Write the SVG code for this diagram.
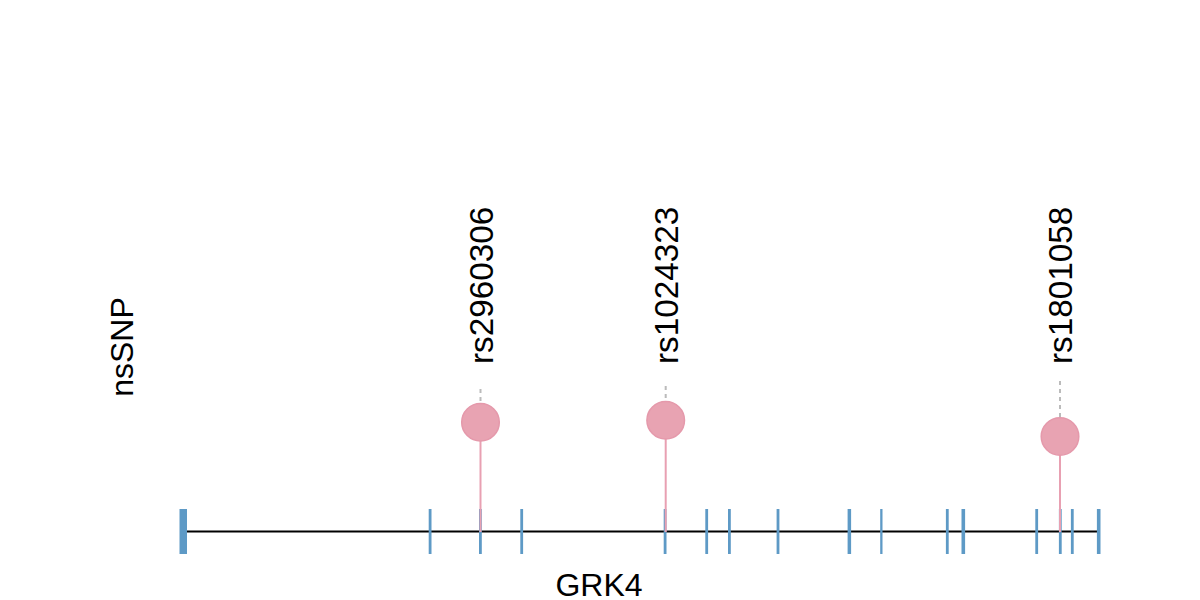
<svg xmlns="http://www.w3.org/2000/svg" width="1200" height="600" viewBox="0 0 1200 600">
<style>
text{font-family:"Liberation Sans",Arial,sans-serif;font-size:32px;fill:#000}
.lab{font-size:33.3px}
.tick{fill:#5E9AC6}
.stem{stroke:#E8A0B2;stroke-width:2;fill:none}
.dash{stroke:#BBBBBB;stroke-width:2;stroke-dasharray:4 4;fill:none}
.head{fill:#E8A3B2;stroke:#E599AB;stroke-width:1.5}
</style>
<rect width="1200" height="600" fill="#fff"/>
<g id="gene">
<line x1="183" y1="531.5" x2="1098" y2="531.5" stroke="#000" stroke-width="2"/>
<rect class="tick" x="179.5" y="509" width="7.5" height="45"/>
<rect class="tick" x="428.7" y="509" width="2.8" height="45"/>
<rect class="tick" x="479" y="509" width="2.8" height="45"/>
<rect class="tick" x="520.3" y="509" width="2.8" height="45"/>
<rect class="tick" x="663.7" y="509" width="2.8" height="45"/>
<rect class="tick" x="705.3" y="509" width="2.8" height="45"/>
<rect class="tick" x="728" y="509" width="2.8" height="45"/>
<rect class="tick" x="776.6" y="509" width="2.8" height="45"/>
<rect class="tick" x="847.6" y="509" width="3.5" height="45"/>
<rect class="tick" x="880.2" y="509" width="2.3" height="45"/>
<rect class="tick" x="945.9" y="509" width="2.8" height="45"/>
<rect class="tick" x="961.5" y="509" width="3.6" height="45"/>
<rect class="tick" x="1035.3" y="509" width="2.8" height="45"/>
<rect class="tick" x="1058.9" y="509" width="2.8" height="45"/>
<rect class="tick" x="1070.9" y="509" width="2.8" height="45"/>
<rect class="tick" x="1096.9" y="509" width="3.6" height="45"/>
</g>
<g id="connectors">
<line class="dash" x1="480.5" y1="389" x2="480.5" y2="403"/>
<line class="dash" x1="665.7" y1="386" x2="665.7" y2="401"/>
<line class="dash" x1="1060" y1="381" x2="1060" y2="417"/>
<line class="stem" x1="480.5" y1="441" x2="480.5" y2="532"/>
<line class="stem" x1="665.7" y1="439" x2="665.7" y2="532"/>
<line class="stem" x1="1060" y1="455" x2="1060" y2="532"/>
</g>
<g id="snp1">
<circle class="head" cx="480.5" cy="422.3" r="18.8"/>
<text class="lab" transform="translate(492.5,364) rotate(-90)">rs2960306</text>
</g>
<g id="snp2">
<circle class="head" cx="665.7" cy="420.3" r="18.8"/>
<text class="lab" transform="translate(677.5,364) rotate(-90)">rs1024323</text>
</g>
<g id="snp3">
<circle class="head" cx="1060" cy="436.5" r="18.8"/>
<text class="lab" transform="translate(1072,364) rotate(-90)">rs1801058</text>
</g>
<g id="labels">
<text x="599" y="596" text-anchor="middle">GRK4</text>
<text transform="translate(133,347) rotate(-90)" text-anchor="middle">nsSNP</text>
</g>
</svg>
